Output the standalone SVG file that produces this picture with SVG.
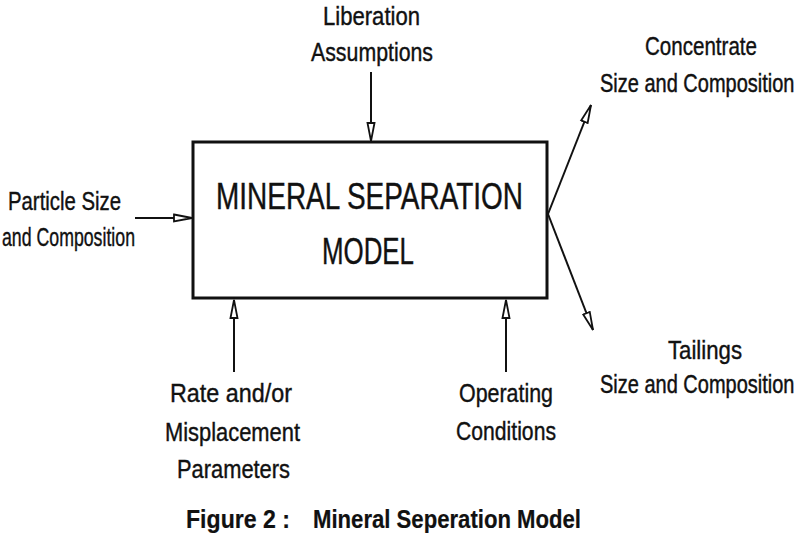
<svg xmlns="http://www.w3.org/2000/svg" width="800" height="542" viewBox="0 0 800 542">
<defs>
<style>
text{font-family:"Liberation Sans",Arial,sans-serif;fill:#111;stroke:#111;stroke-width:0.4;}
.l{font-size:26px;}
.s{font-size:20px;stroke-width:0.35;}
.t{font-size:36px;}
.c{font-size:25px;font-weight:bold;stroke-width:0.2;}
.ln{stroke:#111;stroke-width:2;fill:none;}
</style>
<marker id="ah" viewBox="0 0 20 10" refX="19" refY="5" markerWidth="20" markerHeight="10" markerUnits="userSpaceOnUse" orient="auto">
<path d="M1,1.5 L19,5 L1,8.5 Z" fill="#fff" stroke="#111" stroke-width="1.8"/>
</marker>
</defs>
<rect width="800" height="542" fill="#fff"/>
<g id="connectors">
<line class="ln" x1="371" y1="72" x2="371" y2="141" marker-end="url(#ah)"/>
<line class="ln" x1="135" y1="218" x2="192" y2="218" marker-end="url(#ah)"/>
<line class="ln" x1="234" y1="372" x2="234" y2="300" marker-end="url(#ah)"/>
<line class="ln" x1="506" y1="372" x2="506" y2="300" marker-end="url(#ah)"/>
<line class="ln" x1="548" y1="214" x2="591" y2="105" marker-end="url(#ah)"/>
<line class="ln" x1="548" y1="214" x2="593" y2="330" marker-end="url(#ah)"/>
</g>
<g id="model">
<rect x="193" y="142" width="354" height="156" fill="#fff" stroke="#111" stroke-width="3"/>
<text class="t" x="216" y="209" textLength="307" lengthAdjust="spacingAndGlyphs">MINERAL SEPARATION</text>
<text class="t" x="322" y="264" textLength="92" lengthAdjust="spacingAndGlyphs">MODEL</text>
</g>
<g id="liberation">
<text class="l" x="323" y="25" textLength="97" lengthAdjust="spacingAndGlyphs">Liberation</text>
<text class="l" x="311" y="61" textLength="122" lengthAdjust="spacingAndGlyphs">Assumptions</text>
</g>
<g id="particle">
<text class="l" x="8" y="210" textLength="113" lengthAdjust="spacingAndGlyphs">Particle Size</text>
<text class="l" x="2" y="246" textLength="133" lengthAdjust="spacingAndGlyphs">and Composition</text>
</g>
<g id="concentrate">
<text class="l" x="645" y="55" textLength="112" lengthAdjust="spacingAndGlyphs">Concentrate</text>
<text class="s" x="600" y="92" transform="translate(600,92) scale(1,1.3) translate(-600,-92)">Size and Composition</text>
</g>
<g id="tailings">
<text class="l" x="668" y="359" textLength="74" lengthAdjust="spacingAndGlyphs">Tailings</text>
<text class="s" x="600" y="393" transform="translate(600,393) scale(1,1.3) translate(-600,-393)">Size and Composition</text>
</g>
<g id="rate">
<text class="l" x="170" y="402" textLength="122" lengthAdjust="spacingAndGlyphs">Rate and/or</text>
<text class="l" x="165" y="441" textLength="135" lengthAdjust="spacingAndGlyphs">Misplacement</text>
<text class="l" x="177" y="478" textLength="113" lengthAdjust="spacingAndGlyphs">Parameters</text>
</g>
<g id="operating">
<text class="l" x="459" y="402" textLength="94" lengthAdjust="spacingAndGlyphs">Operating</text>
<text class="l" x="456" y="440" textLength="100" lengthAdjust="spacingAndGlyphs">Conditions</text>
</g>
<g id="caption">
<text class="c" x="186" y="528" textLength="104" lengthAdjust="spacingAndGlyphs">Figure 2 :</text>
<text class="c" x="313" y="528" textLength="268" lengthAdjust="spacingAndGlyphs">Mineral Seperation Model</text>
</g>
</svg>
